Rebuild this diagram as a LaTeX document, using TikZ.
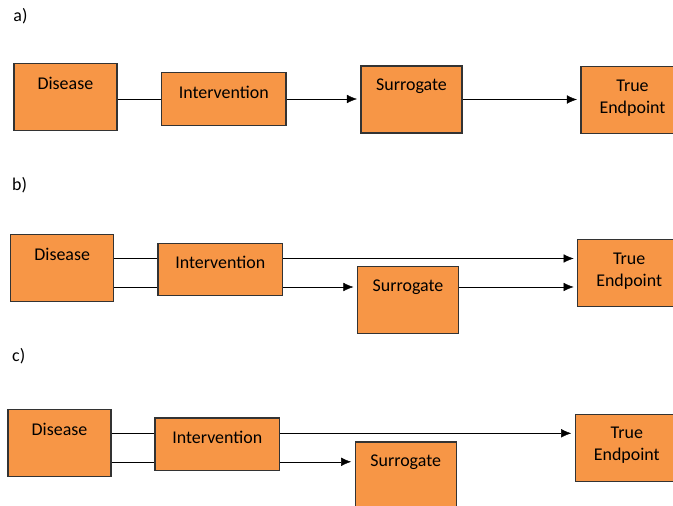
\documentclass[tikz,border=0pt]{standalone}
\usepackage{fontspec}
\setmainfont{Carlito}
\usepackage{tikz}
\usetikzlibrary{arrows.meta}
\usetikzlibrary{positioning}
\usetikzlibrary{calc}
\definecolor{boxorange}{HTML}{F79646}
\definecolor{boxline}{HTML}{333333}
\tikzset{>={Latex[length=10bp,width=8.5bp]}, line width=1.1bp, shorten >=0pt,
  blk/.style={draw=boxline, fill=boxorange, line width=1.2bp, inner sep=0pt,
    minimum width=103bp, minimum height=67bp, label={[blktext]north:{#1}}},
  low/.style={minimum width=124.5bp, minimum height=52.5bp},
  blktext/.style={anchor=north, yshift=-13.5bp, inner sep=0pt, align=center,
    font=\fontsize{18}{22}\selectfont},
  tag/.style={anchor=base west, inner sep=0pt, font=\fontsize{18}{22}\selectfont},
  arr/.style={->, shorten >=3.5bp}}

\begin{document}
\begin{tikzpicture}
\useasboundingbox (0bp,0bp) rectangle (673bp,506bp);
%% a)
  \node (lbl_a) at (13.3bp,484.5bp) [tag] {a)};
  \node (dis_a) at (65.4bp,408.8bp) [blk=Disease] {};
  \node (int_a) at (223.7bp,407.0bp) [blk=Intervention, low] {};
  \node (sur_a) at (411.5bp,406.5bp) [blk=Surrogate, minimum width=101bp] {};
  \node (tru_a) at (632.5bp,405.7bp) [blk={True\\Endpoint}] {};
  \draw (dis_a.east |- int_a.west) -- (int_a.west);
  \draw [arr] (int_a.east) -- (int_a.east -| sur_a.west);
  \draw [arr] (sur_a.east) -- (sur_a.east -| tru_a.west);
%% b)
  \node (lbl_b) at (12.0bp,315.0bp) [tag] {b)};
  \node (dis_b) at (62.2bp,237.7bp) [blk=Disease] {};
  \node (int_b) at (220.2bp,236.5bp) [blk=Intervention, low] {};
  \node (sur_b) at (408.0bp,205.7bp) [blk=Surrogate, minimum width=101bp] {};
  \node (tru_b) at (629.2bp,233.0bp) [blk={True\\Endpoint}] {};
  \coordinate (ib1) at ([yshift=11bp]int_b.west);
  \coordinate (ib2) at ([yshift=-17.5bp]int_b.west);
  \coordinate (ib3) at ([yshift=11bp]int_b.east);
  \coordinate (ib4) at ([yshift=-17.5bp]int_b.east);
  \draw (ib1 -| dis_b.east) -- (ib1);
  \draw (ib2 -| dis_b.east) -- (ib2);
  \draw [arr] (ib3) -- (ib3 -| tru_b.west);
  \draw [arr] (ib4) -- (ib4 -| sur_b.west);
  \draw [arr] (ib4 -| sur_b.east) -- (ib4 -| tru_b.west);
%% c)
  \node (lbl_c) at (12.0bp,144.0bp) [tag] {c)};
  \node (dis_c) at (59.5bp,62.7bp) [blk=Disease] {};
  \node (int_c) at (217.3bp,61.7bp) [blk=Intervention, low] {};
  \node (sur_c) at (405.7bp,30.5bp) [blk=Surrogate, minimum width=101bp] {};
  \node (tru_c) at (626.8bp,58.2bp) [blk={True\\Endpoint}] {};
  \coordinate (ic1) at ([yshift=11bp]int_c.west);
  \coordinate (ic2) at ([yshift=-17.5bp]int_c.west);
  \coordinate (ic3) at ([yshift=11bp]int_c.east);
  \coordinate (ic4) at ([yshift=-17.5bp]int_c.east);
  \draw (ic1 -| dis_c.east) -- (ic1);
  \draw (ic2 -| dis_c.east) -- (ic2);
  \draw [arr] (ic3) -- (ic3 -| tru_c.west);
  \draw [arr] (ic4) -- (ic4 -| sur_c.west);
%
\end{tikzpicture}
\end{document}
